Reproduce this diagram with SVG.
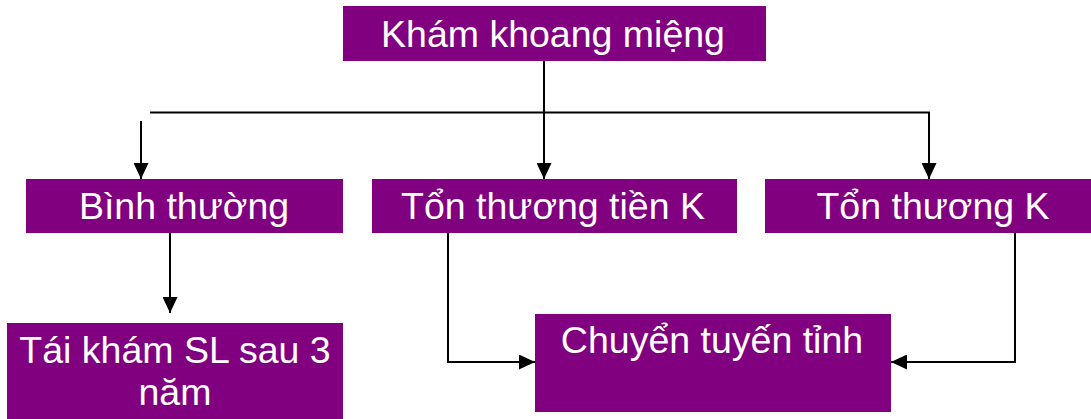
<svg xmlns="http://www.w3.org/2000/svg" width="1091" height="419" viewBox="0 0 1091 419">
  <style>
    .box { fill: #800080; }
    .lbl { font-family: "Liberation Sans", Arial, sans-serif; font-size: 37.5px; fill: #ffffff; text-anchor: middle; }
    .wire { fill: none; stroke: #000000; stroke-width: 2; }
    .arr { marker-end: url(#head); }
  </style>
  <defs>
    <marker id="head" viewBox="0 0 16 15" refX="16" refY="7.5" markerWidth="16" markerHeight="15" markerUnits="userSpaceOnUse" orient="auto">
      <path d="M0,0 L16,7.5 L0,15 Z" fill="#000000"/>
    </marker>
  </defs>
  <rect width="1091" height="419" fill="#ffffff"/>

  <g id="connectors">
    <line class="wire" x1="150" y1="112.5" x2="930" y2="112.5"/>
    <path class="wire arr" d="M544,54 V179"/>
    <path class="wire arr" d="M141,121 V179"/>
    <path class="wire arr" d="M929,112.5 V179"/>
    <path class="wire arr" d="M170,226 V313"/>
    <path class="wire arr" d="M448,226 V362 H535"/>
    <path class="wire arr" d="M1015,226 V362 H891"/>
  </g>

  <g id="kham-khoang-mieng">
    <rect class="box" x="343" y="6" width="423" height="55"/>
    <text class="lbl" x="553" y="47">Khám khoang miệng</text>
  </g>
  <g id="binh-thuong">
    <rect class="box" x="26" y="179" width="317" height="54"/>
    <text class="lbl" x="184" y="219">Bình thường</text>
  </g>
  <g id="ton-thuong-tien-k">
    <rect class="box" x="372" y="179" width="365" height="54"/>
    <text class="lbl" x="553" y="219">Tổn thương tiền K</text>
  </g>
  <g id="ton-thuong-k">
    <rect class="box" x="765" y="179" width="326" height="54"/>
    <text class="lbl" x="933" y="219">Tổn thương K</text>
  </g>
  <g id="tai-kham">
    <rect class="box" x="7" y="323" width="336" height="96"/>
    <text class="lbl" x="175" y="363">Tái khám SL sau 3</text>
    <text class="lbl" x="175" y="405">năm</text>
  </g>
  <g id="chuyen-tuyen-tinh">
    <rect class="box" x="535" y="314" width="356" height="98"/>
    <text class="lbl" x="712" y="353">Chuyển tuyến tỉnh</text>
  </g>
</svg>
